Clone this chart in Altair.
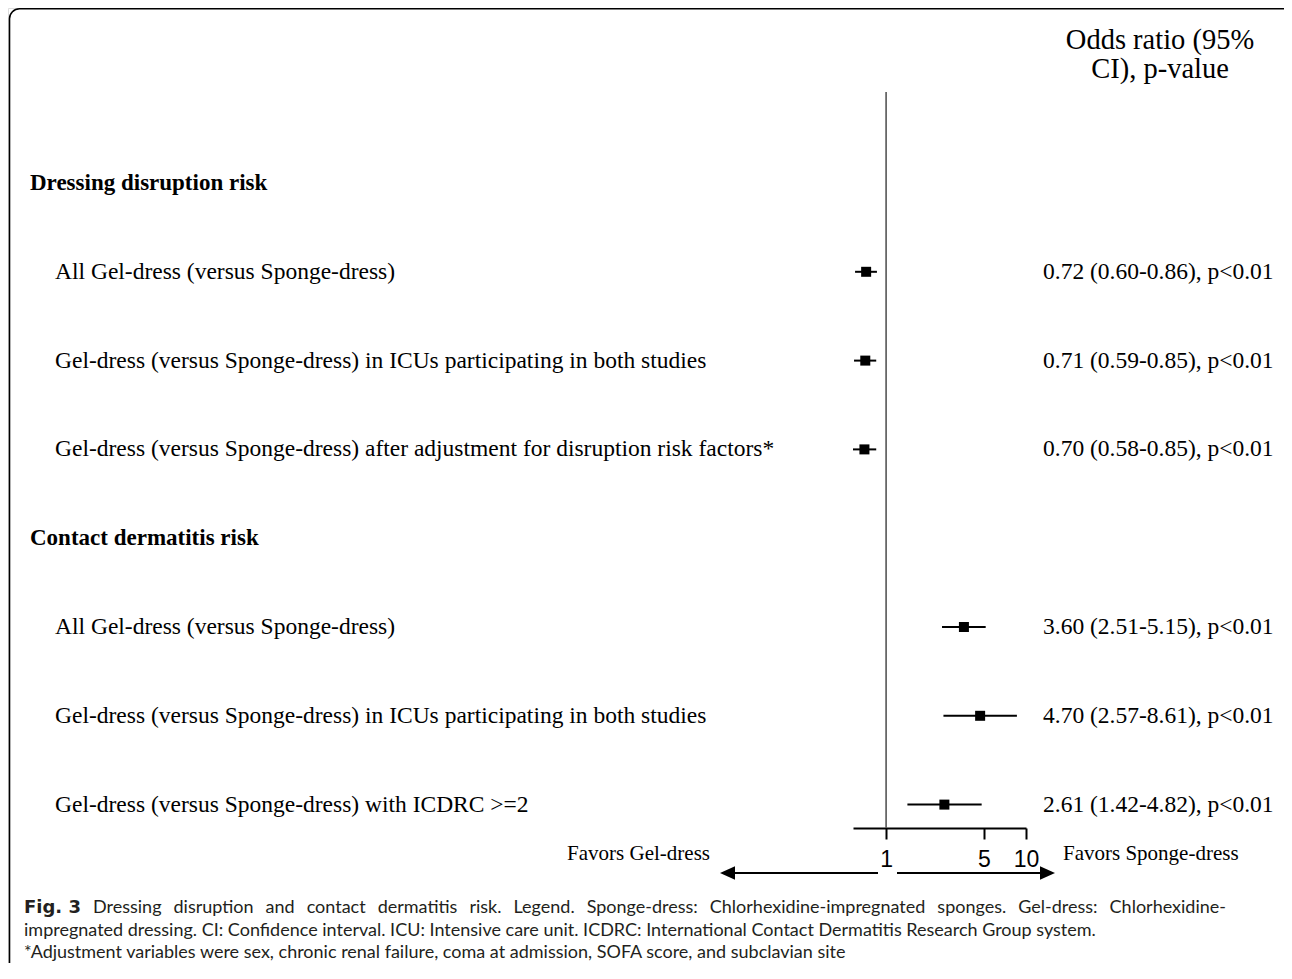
import altair as alt
import pandas as pd

# ---------------- data ----------------
row_labels = [
    "Dressing disruption risk",
    "All Gel-dress (versus Sponge-dress)",
    "Gel-dress (versus Sponge-dress) in ICUs participating in both studies",
    "Gel-dress (versus Sponge-dress) after adjustment for disruption risk factors*",
    "Contact dermatitis risk",
    "All Gel-dress (versus Sponge-dress)",
    "Gel-dress (versus Sponge-dress) in ICUs participating in both studies",
    "Gel-dress (versus Sponge-dress) with ICDRC >=2",
]
is_header = [True, False, False, False, True, False, False, False]
odds_ratio = [None, 0.72, 0.71, 0.70, None, 3.60, 4.70, 2.61]
ci_low = [None, 0.60, 0.59, 0.58, None, 2.51, 2.57, 1.42]
ci_high = [None, 0.86, 0.85, 0.85, None, 5.15, 8.61, 4.82]
p_values = [None, "p<0.01", "p<0.01", "p<0.01", None, "p<0.01", "p<0.01", "p<0.01"]
axis_ticks = [1, 5, 10]
column_header = ["Odds ratio (95%", "CI), p-value"]
favors = ["Favors Gel-dress", "Favors Sponge-dress"]
caption_bold = "Fig. 3"
caption_lines = [
    "Dressing disruption and contact dermatitis risk. Legend. Sponge-dress: Chlorhexidine-impregnated sponges. Gel-dress: Chlorhexidine-",
    "impregnated dressing. CI: Confidence interval. ICU: Intensive care unit. ICDRC: International Contact Dermatitis Research Group system.",
    "*Adjustment variables were sex, chronic renal failure, coma at admission, SOFA score, and subclavian site",
]

# ---------------- tables ----------------
rows = pd.DataFrame({
    "row": list(range(len(row_labels))),
    "label": row_labels,
    "header": is_header,
    "or": odds_ratio,
    "lo": ci_low,
    "hi": ci_high,
    "p": p_values,
})
est = rows[~rows["header"]].copy()
est["txt"] = [f"{o:.2f} ({l:.2f}-{h:.2f}), {p}" for o, l, h, p in zip(est["or"], est["lo"], est["hi"], est["p"])]
heads = rows[rows["header"]].copy()
subs = rows[~rows["header"]].copy()
one = pd.DataFrame({"ref": [1]})

# first caption line is justified in the original: widen its word spaces
JUST_SPACE = "\u2002\u2006"
cap_text = [caption_lines[0].replace(" ", JUST_SPACE)] + caption_lines[1:]

W, H = 1276, 955
SERIF = "Liberation Serif"

XS = alt.Scale(type="log", domain=[0.58, 10], range=[845, 1018])
YS = alt.Scale(domain=[0, 7], range=[175, 796.6])
XAX = alt.Axis(values=axis_ticks, format="~g", offset=820 - H, grid=False, title=None,
               domainColor="black", domainWidth=2, tickColor="black", tickWidth=2, tickSize=11,
               labelFont="Liberation Sans", labelFontSize=23, labelColor="black", labelPadding=9,
               labelFlush=False, labelOverlap=False)

frame = alt.Chart(one).mark_rect(fillOpacity=0, stroke="black", strokeWidth=1.6, cornerRadius=10, clip=True).encode(
    x=alt.value(1.5), x2=alt.value(1400), y=alt.value(0.8), y2=alt.value(1300))

ref = alt.Chart(one).mark_rule(color="#555555", strokeWidth=1.6).encode(
    x=alt.X("ref:Q", scale=XS, axis=XAX), y=alt.value(84), y2=alt.value(820))

ci = alt.Chart(est).mark_rule(color="black", strokeWidth=2).encode(
    x=alt.X("lo:Q", scale=XS, axis=XAX), x2="hi:Q", y=alt.Y("row:Q", scale=YS, axis=None))

sq = alt.Chart(est).mark_square(color="black", size=100, opacity=1).encode(
    x=alt.X("or:Q", scale=XS, axis=XAX), y=alt.Y("row:Q", scale=YS, axis=None))

head_txt = alt.Chart(heads).mark_text(align="left", baseline="middle", font=SERIF, fontSize=23,
                                       fontWeight="bold", color="black").encode(
    x=alt.value(22), y=alt.Y("row:Q", scale=YS, axis=None), text="label:N")

sub_txt = alt.Chart(subs).mark_text(align="left", baseline="middle", font=SERIF, fontSize=23.5,
                                     color="black").encode(
    x=alt.value(47), y=alt.Y("row:Q", scale=YS, axis=None), text="label:N")

val_txt = alt.Chart(est).mark_text(align="left", baseline="middle", font=SERIF, fontSize=23.5,
                                    color="black").encode(
    x=alt.value(1035), y=alt.Y("row:Q", scale=YS, axis=None), text="txt:N")

colhead = alt.Chart(pd.DataFrame({"t": column_header, "yy": [41, 70]})).mark_text(
    align="center", baseline="alphabetic", font=SERIF, fontSize=28.5, color="black").encode(
    x=alt.value(1152), y=alt.Y("yy:Q", scale=None), text="t:N")

fav_left = alt.Chart(pd.DataFrame({"t": [favors[0]]})).mark_text(
    align="right", baseline="alphabetic", font=SERIF, fontSize=21, color="black").encode(
    x=alt.value(702), y=alt.value(852), text="t:N")
fav_right = alt.Chart(pd.DataFrame({"t": [favors[1]]})).mark_text(
    align="left", baseline="alphabetic", font=SERIF, fontSize=21, color="black").encode(
    x=alt.value(1055), y=alt.value(852), text="t:N")

arrow_l = alt.Chart(one).mark_rule(color="black", strokeWidth=2).encode(
    x=alt.value(716), x2=alt.value(870), y=alt.value(865))
arrow_r = alt.Chart(one).mark_rule(color="black", strokeWidth=2).encode(
    x=alt.value(889), x2=alt.value(1043), y=alt.value(865))
head_l = alt.Chart(one).mark_point(shape="M-1,0L1,-0.9L1,0.9Z", size=225, filled=True, color="black",
                                   opacity=1, strokeWidth=0).encode(x=alt.value(719.5), y=alt.value(865))
head_r = alt.Chart(one).mark_point(shape="M1,0L-1,-0.9L-1,0.9Z", size=225, filled=True, color="black",
                                   opacity=1, strokeWidth=0).encode(x=alt.value(1039.5), y=alt.value(865))

cap_bold = alt.Chart(pd.DataFrame({"t": [caption_bold]})).mark_text(
    align="left", baseline="alphabetic", font="DejaVu Sans", fontSize=18, fontWeight="bold", color="#231f20").encode(
    x=alt.value(16), y=alt.value(905), text="t:N")
cap = alt.Chart(pd.DataFrame({"t": cap_text, "xx": [85, 16, 16], "yy": [905, 928, 950]})).mark_text(
    align="left", baseline="alphabetic", font="Lato", fontSize=18, color="#231f20").encode(
    x=alt.X("xx:Q", scale=None), y=alt.Y("yy:Q", scale=None), text="t:N")

chart = alt.layer(
    frame, ref, ci, sq, head_txt, sub_txt, val_txt, colhead,
    fav_left, fav_right, arrow_l, arrow_r, head_l, head_r, cap_bold, cap
).properties(
    width=W, height=H, autosize=alt.AutoSizeParams(type="none"), padding=0
).configure_view(stroke=None).configure(background="white")

chart.save("out.html", embed_options={"renderer": "svg", "actions": False})
